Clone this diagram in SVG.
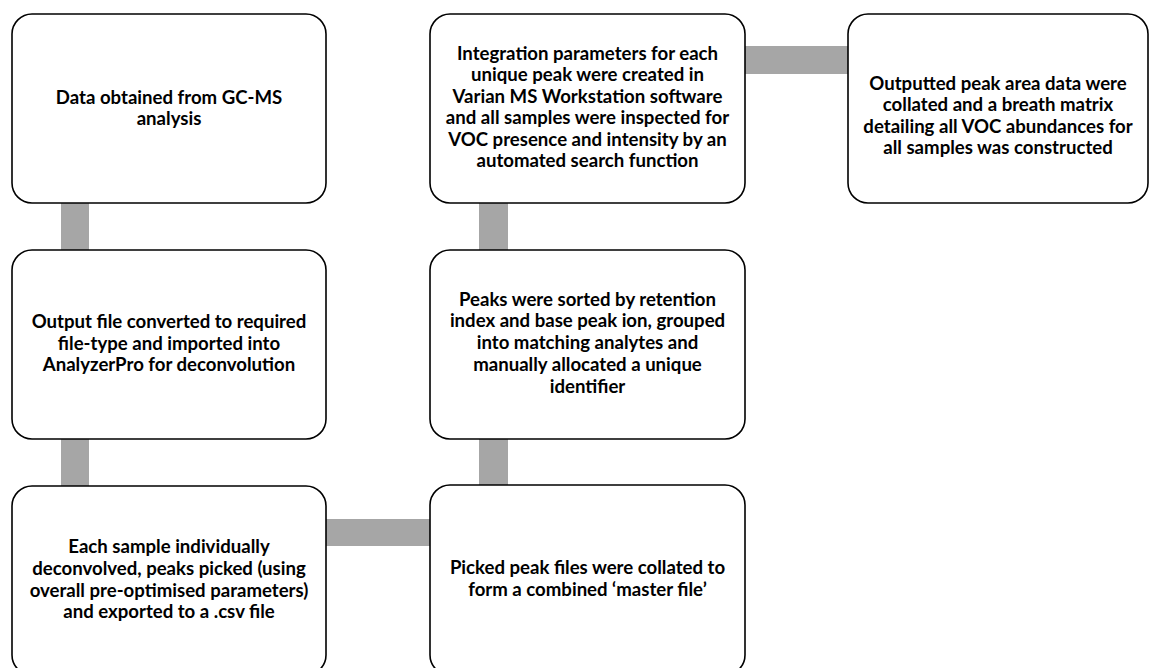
<svg xmlns="http://www.w3.org/2000/svg" width="1151" height="668" viewBox="0 0 1151 668">
<style>
.box{fill:#ffffff;stroke:#000000;stroke-width:1.6}
.conn{fill:#a6a6a6}
text{font-family:Lato,"Liberation Sans",sans-serif;font-weight:bold;font-size:18.6px;fill:#000000;text-anchor:middle}
</style>
<rect width="1151" height="668" fill="#ffffff"/>
<g id="connectors">
<rect class="conn" x="61" y="202" width="28" height="49"/>
<rect class="conn" x="61" y="438" width="28" height="49"/>
<rect class="conn" x="325" y="519" width="106" height="27"/>
<rect class="conn" x="479" y="202" width="29" height="49"/>
<rect class="conn" x="479" y="438" width="29" height="48"/>
<rect class="conn" x="744" y="46" width="105" height="28"/>
</g>
<g id="node1">
<rect class="box" x="12" y="14" width="314" height="189" rx="20"/>
<text x="169" y="104">Data obtained from GC-MS</text>
<text x="169" y="125">analysis</text>
</g>
<g id="node2">
<rect class="box" x="12" y="250" width="314" height="189" rx="20"/>
<text x="169" y="328">Output file converted to required</text>
<text x="169" y="350">file-type and imported into</text>
<text x="169" y="371">AnalyzerPro for deconvolution</text>
</g>
<g id="node3">
<rect class="box" x="12" y="486" width="314" height="189" rx="20"/>
<text x="169" y="553">Each sample individually</text>
<text x="169" y="575">deconvolved, peaks picked (using</text>
<text x="169" y="597">overall pre-optimised parameters)</text>
<text x="169" y="618">and exported to a .csv file</text>
</g>
<g id="node4">
<rect class="box" x="430" y="485" width="315" height="190" rx="20"/>
<text x="587.5" y="574">Picked peak files were collated to</text>
<text x="587.5" y="596">form a combined ‘master file’</text>
</g>
<g id="node5">
<rect class="box" x="430" y="250" width="315" height="189" rx="20"/>
<text x="587.5" y="306">Peaks were sorted by retention</text>
<text x="587.5" y="327">index and base peak ion, grouped</text>
<text x="587.5" y="349">into matching analytes and</text>
<text x="587.5" y="371">manually allocated a unique</text>
<text x="587.5" y="393">identifier</text>
</g>
<g id="node6">
<rect class="box" x="430" y="14" width="315" height="189" rx="20"/>
<text x="587.5" y="60">Integration parameters for each</text>
<text x="587.5" y="81">unique peak were created in</text>
<text x="587.5" y="103">Varian MS Workstation software</text>
<text x="587.5" y="124">and all samples were inspected for</text>
<text x="587.5" y="146">VOC presence and intensity by an</text>
<text x="587.5" y="167">automated search function</text>
</g>
<g id="node7">
<rect class="box" x="848" y="14" width="300" height="189" rx="20"/>
<text x="998" y="90">Outputted peak area data were</text>
<text x="998" y="111">collated and a breath matrix</text>
<text x="998" y="133">detailing all VOC abundances for</text>
<text x="998" y="154">all samples was constructed</text>
</g>
</svg>
